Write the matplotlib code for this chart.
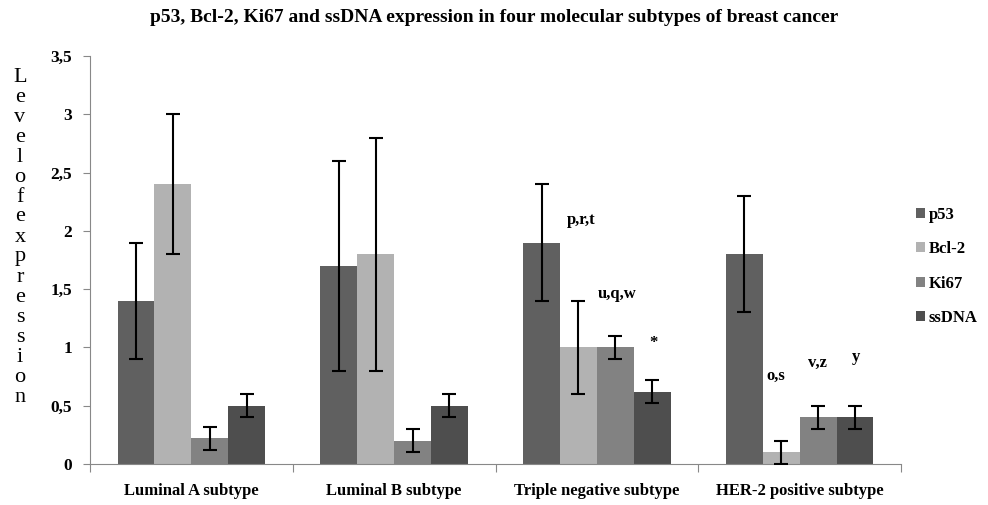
import numpy as np
import matplotlib
matplotlib.use('Agg')
import matplotlib.pyplot as plt

categories = ['Luminal A subtype', 'Luminal B subtype', 'Triple negative subtype', 'HER-2 positive subtype']
series = ['p53', 'Bcl-2', 'Ki67', 'ssDNA']
values = {
    'p53':   [1.4, 1.7, 1.9, 1.8],
    'Bcl-2': [2.4, 1.8, 1.0, 0.1],
    'Ki67':  [0.22, 0.2, 1.0, 0.4],
    'ssDNA': [0.5, 0.5, 0.62, 0.4],
}
errors = {
    'p53':   [0.5, 0.9, 0.5, 0.5],
    'Bcl-2': [0.6, 1.0, 0.4, 0.1],
    'Ki67':  [0.1, 0.1, 0.1, 0.1],
    'ssDNA': [0.1, 0.1, 0.1, 0.1],
}
colors = ['#606060', '#b2b2b2', '#828282', '#4e4e4e']
ytick_labels = ['0', '0,5', '1', '1,5', '2', '2,5', '3', '3,5']

# significance marks: text, x position (group units), y value
marks = ['p,r,t', 'u,q,w', '*', 'o,s', 'v,z', 'y']
marks_x = [1.92, 2.10, 2.28, 2.88, 3.09, 3.28]
marks_y = [2.09, 1.46, 1.04, 0.76, 0.87, 0.92]

serif = 'Liberation Serif'

fig = plt.figure(figsize=(9.88, 5.05), dpi=100)
ax = fig.add_axes([90/988, 1-464/505, (901-90)/988, (464-56)/505])

x = np.arange(len(categories))
w = 0.182
for i, s in enumerate(series):
    pos = x + (i - 1.5) * w
    ax.bar(pos, values[s], w, color=colors[i], label=s, zorder=2)
    ax.errorbar(pos, values[s], yerr=errors[s], fmt='none', ecolor='black',
                elinewidth=1.5, capsize=5, capthick=1.5, zorder=3)

for t, mx, my in zip(marks, marks_x, marks_y):
    ax.text(mx, my, t, ha='center', va='center', fontsize=12,
            fontweight='bold', family=serif)

ax.set_xlim(-0.5, 3.5)
ax.set_ylim(0, 3.5)
ax.set_yticks(np.arange(0, 3.51, 0.5))
ax.set_yticklabels(ytick_labels, fontsize=12.5, fontweight='bold', family=serif)
ax.set_xticks(np.arange(-0.5, 3.51, 1.0))
ax.set_xticklabels([])
ax.set_xticks(x, minor=True)
ax.set_xticklabels(categories, minor=True, fontsize=12, fontweight='bold', family=serif)
ax.tick_params(axis='x', which='minor', length=0, pad=14)
ax.tick_params(axis='x', which='major', length=6, color='#888888')
ax.tick_params(axis='y', length=5, color='#888888', pad=8)

for sp in ['top', 'right']:
    ax.spines[sp].set_visible(False)
for sp in ['left', 'bottom']:
    ax.spines[sp].set_color('#888888')

fig.text(0.5, 1-17/505, 'p53, Bcl-2, Ki67 and ssDNA expression in four molecular subtypes of breast cancer',
         ha='center', va='center', fontsize=14, fontweight='bold', family=serif)

ylabel = 'Levelofexpression'
for k, ch in enumerate(ylabel):
    fig.text(20/988, 1-(77 + k*20)/505, ch, ha='center', va='center',
             fontsize=16, family=serif)

leg = fig.legend(loc='upper left', bbox_to_anchor=(916/988, 1-207/505), frameon=False,
                 prop={'family': serif, 'weight': 'bold', 'size': 12},
                 handlelength=0.55, handleheight=0.55, handletextpad=0.2, labelspacing=1.1,
                 borderpad=0, borderaxespad=0)

fig.savefig('out.png', dpi=100)
